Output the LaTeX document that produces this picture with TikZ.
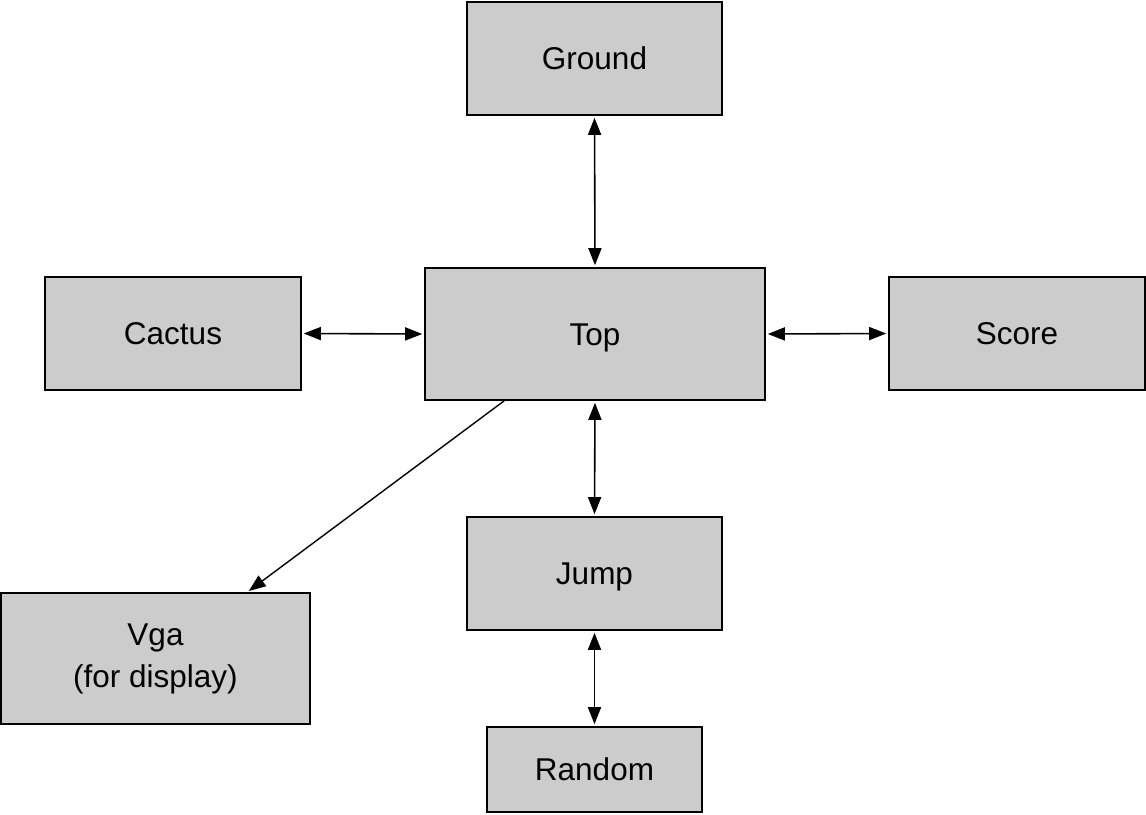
\documentclass[tikz,border=0pt]{standalone}
\usepackage{fontspec}
\setmainfont{Liberation Sans}
\usetikzlibrary{arrows.meta}
\begin{document}
\begin{tikzpicture}[x=1pt,y=-1pt,
  box/.style={draw=black, line width=1.6pt, fill=black!20, inner sep=0pt, font=\fontsize{31.5}{42}\selectfont, align=center},
  one/.style={text height=22.6pt, text depth=0pt},
  link/.style={line width=1.6pt, {Triangle[length=17pt,width=13pt]}-{Triangle[length=17pt,width=13pt]}, shorten <=2pt, shorten >=2pt},
  onelink/.style={line width=1.4pt, -{Triangle[length=17pt,width=13pt]}, shorten >=2pt}]
\useasboundingbox (0,0) rectangle (1146,814);
\node[box, one, minimum width=255pt, minimum height=113pt] (ground) at (594.5,58.5) {Ground};
\node[box, one, minimum width=340pt, minimum height=132pt] (top) at (595,334) {Top};
\node[box, one, minimum width=256pt, minimum height=113pt] (cactus) at (173,333.5) {Cactus};
\node[box, one, minimum width=256pt, minimum height=113pt] (score) at (1017,333.5) {Score};
\node[box, one, minimum width=255pt, minimum height=113pt] (jump) at (594.5,573.5) {Jump};
\node[box, minimum width=309pt, minimum height=131pt] (vga) at (155.5,658.5) {Vga\\(for display)};
\node[box, one, minimum width=215pt, minimum height=85pt] (random) at (594.5,769.5) {Random};
\draw[link] (ground.south) -- (top.north);
\draw[link] (cactus.east) -- (top.west);
\draw[link] (top.east) -- (score.west);
\draw[link] (top.south) -- (jump.north);
\draw[link] (jump.south) -- (random.north);
\draw[onelink] ([xshift=80pt]top.south west) -- ([xshift=247pt]vga.north west);
\end{tikzpicture}
\end{document}
